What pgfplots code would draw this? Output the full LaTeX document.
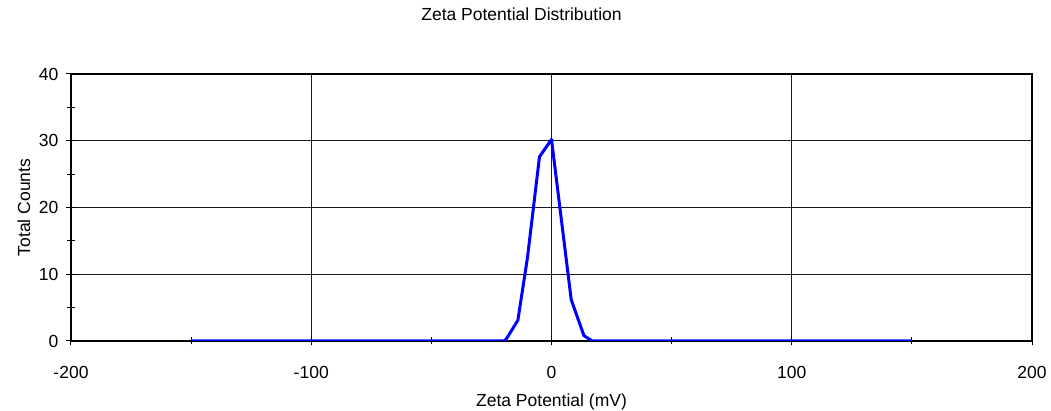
\documentclass[border=0pt]{standalone}
\usepackage{fontspec}
\setmainfont{Liberation Sans}
\usepackage{pgfplots}
\pgfplotsset{compat=1.18}
\begin{document}
\begin{tikzpicture}[font=\fontsize{17.5}{21}\selectfont]
\begin{axis}[
  scale only axis, width=961pt, height=267pt,
  xmin=-200, xmax=200, ymin=0, ymax=40,
  xtick={-200,-100,0,100,200}, xticklabels={-200,-100,0,100,200},
  minor xtick={-150,-50,50,150},
  ytick={0,10,20,30,40}, yticklabels={0,10,20,30,40},
  minor ytick={5,15,25,35},
  tick pos=left, tick align=center,
  major tick length=9pt, minor tick length=7pt,
  every tick/.style={black, line width=1pt},
  xmajorgrids, ymajorgrids,
  major grid style={black!90, line width=1.1pt},
  axis line style={black, line width=1.3pt},
  xticklabel style={anchor=center, yshift=-27pt},
  yticklabel style={anchor=east, inner sep=0pt, xshift=-8pt},
  title={Zeta Potential Distribution},
  title style={at={(axis description cs:0.4688,1.2022)}, anchor=center},
  xlabel={Zeta Potential (mV)},
  every axis x label/.style={at={(axis description cs:0.5,-0.2285)}, anchor=center},
  ylabel={Total Counts},
  every axis y label/.style={at={(axis description cs:-0.049,0.5)}, rotate=90, anchor=center},
]
\addplot[color={rgb,255:red,0;green,0;blue,255}, line width=3pt, line join=round] coordinates {
  (-150,0) (-20,0) (-19,0.2) (-14,3.1) (-10,12.5) (-5,27.6) (0,30.2) (8.2,6.2) (13.5,0.8) (17,0) (150,0)
};
\coordinate (sw) at (rel axis cs:0,0);
\coordinate (ne) at (rel axis cs:1,1);
\end{axis}
\pgfresetboundingbox
\path ([shift={(-71pt,-70pt)}]sw) rectangle ([shift={(19pt,74pt)}]ne);
\end{tikzpicture}
\end{document}
